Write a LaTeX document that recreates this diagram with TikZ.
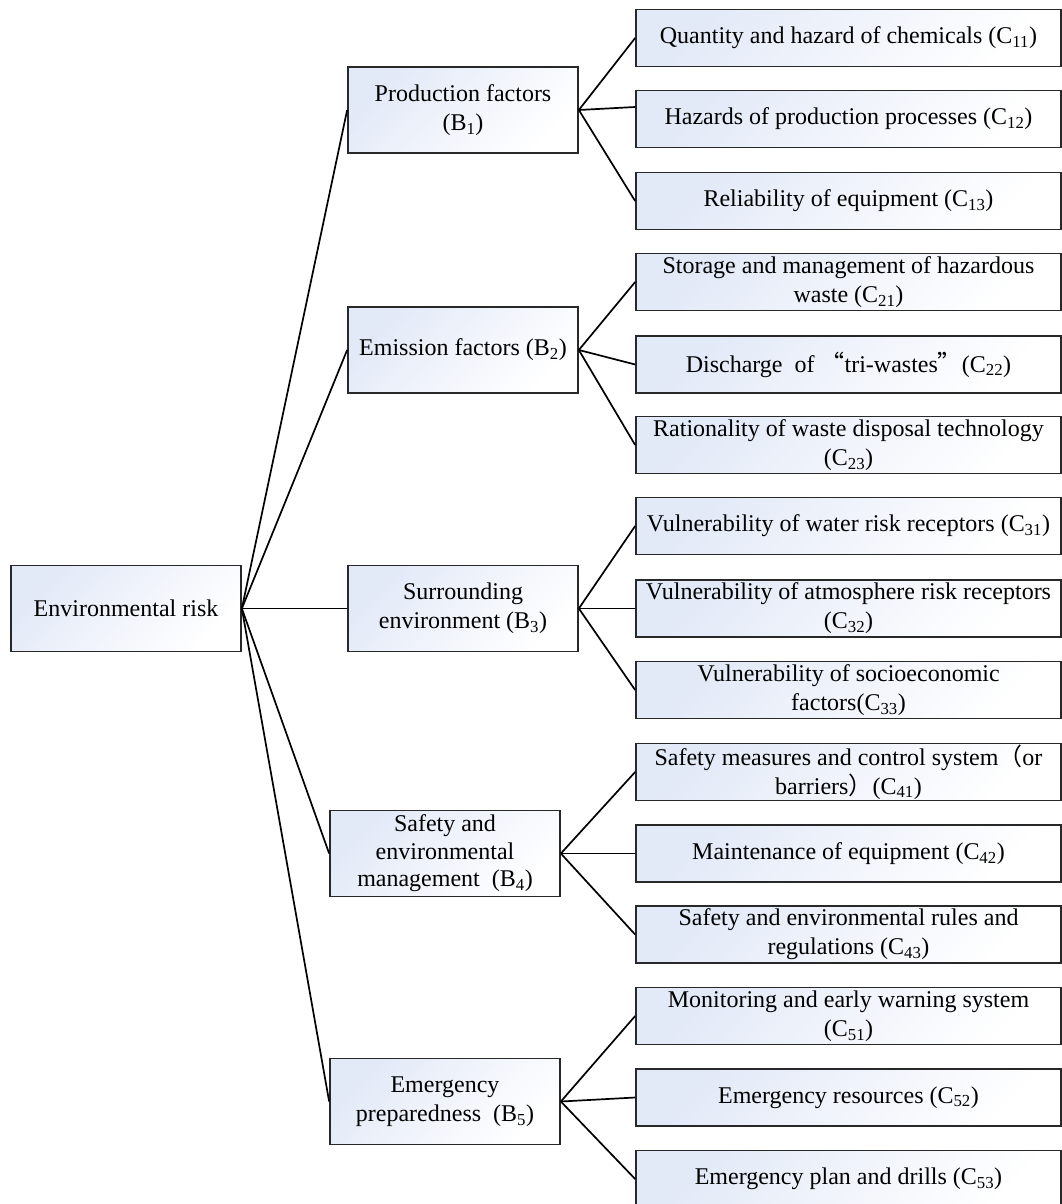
\documentclass[tikz,border=0pt]{standalone}
\usepackage{fontspec}
\setmainfont{Liberation Serif}
\newfontfamily\cjk{Noto Sans CJK SC}
\usetikzlibrary{calc}
\definecolor{boxblue}{RGB}{226,233,247}
\definecolor{boxline}{RGB}{40,40,40}
\tikzset{
  box/.style={draw=boxline, line width=1.7pt, top color=boxblue, bottom color=white, shading angle=45,
    inner sep=0pt, align=center, font=\fontsize{24}{29}\selectfont},
  abox/.style={box, minimum width=230pt, minimum height=86pt},
  cbox/.style={box, minimum width=425pt, minimum height=57pt},
  conn/.style={line width=1.7pt, black}
}
\newcommand{\sbs}[1]{\textsubscript{#1}}
\begin{document}
\begin{tikzpicture}[x=1pt,y=-1pt]
\useasboundingbox (0,0) rectangle (1062,1204);
% root
\node[abox] (a) at (126,608.5) {Environmental risk};
% B level
\node[abox] (b1) at (463,110) {Production factors\\(B\sbs{1})};
\node[abox] (b2) at (463,350) {Emission factors (B\sbs{2})};
\node[abox] (b3) at (463,608.5) {Surrounding\\environment (B\sbs{3})};
\node[abox, font=\fontsize{24}{27.5}\selectfont] (b4) at (445,853.5) {Safety and\\environmental\\management\ \ (B\sbs{4})};
\node[abox] (b5) at (445,1101.5) {Emergency\\preparedness\ \ (B\sbs{5})};
% C level
\node[cbox] (c11) at (848.5,38) {Quantity and hazard of chemicals (C\sbs{11})};
\node[cbox] (c12) at (848.5,119) {Hazards of production processes (C\sbs{12})};
\node[cbox] (c13) at (848.5,201) {Reliability of equipment (C\sbs{13})};
\node[cbox] (c21) at (848.5,282) {Storage and management of hazardous\\waste (C\sbs{21})};
\node[cbox] (c22) at (848.5,364.5) {Discharge\ \ of\ {\cjk “}tri-wastes{\cjk ”}(C\sbs{22})};
\node[cbox] (c23) at (848.5,445) {Rationality of waste disposal technology\\(C\sbs{23})};
\node[cbox] (c31) at (848.5,526) {Vulnerability of water risk receptors (C\sbs{31})};
\node[cbox] (c32) at (848.5,608.5) {Vulnerability of atmosphere risk receptors\\(C\sbs{32})};
\node[cbox] (c33) at (848.5,690) {Vulnerability of socioeconomic\\factors(C\sbs{33})};
\node[cbox] (c41) at (848.5,772) {Safety measures and control system{\cjk （}or\\barriers{\cjk ）}(C\sbs{41})};
\node[cbox] (c42) at (848.5,853.5) {Maintenance of equipment (C\sbs{42})};
\node[cbox] (c43) at (848.5,934.5) {Safety and environmental rules and\\regulations (C\sbs{43})};
\node[cbox] (c51) at (848.5,1016) {Monitoring and early warning system\\(C\sbs{51})};
\node[cbox] (c52) at (848.5,1097.5) {Emergency resources (C\sbs{52})};
\node[cbox] (c53) at (848.5,1179) {Emergency plan and drills (C\sbs{53})};
% connectors root -> B
\foreach \b in {b1,b2,b3,b4,b5} \draw[conn] (a.east) -- (\b.west);
% connectors B -> C
\draw[conn] (b1.east) -- (c11.west);
\draw[conn] (b1.east) -- ($(c12.west)+(0,-12)$);
\draw[conn] (b1.east) -- (c13.west);
\foreach \c in {c21,c22,c23} \draw[conn] (b2.east) -- (\c.west);
\foreach \c in {c31,c32,c33} \draw[conn] (b3.east) -- (\c.west);
\foreach \c in {c41,c42,c43} \draw[conn] (b4.east) -- (\c.west);
\foreach \c in {c51,c52,c53} \draw[conn] (b5.east) -- (\c.west);
\end{tikzpicture}
\end{document}
